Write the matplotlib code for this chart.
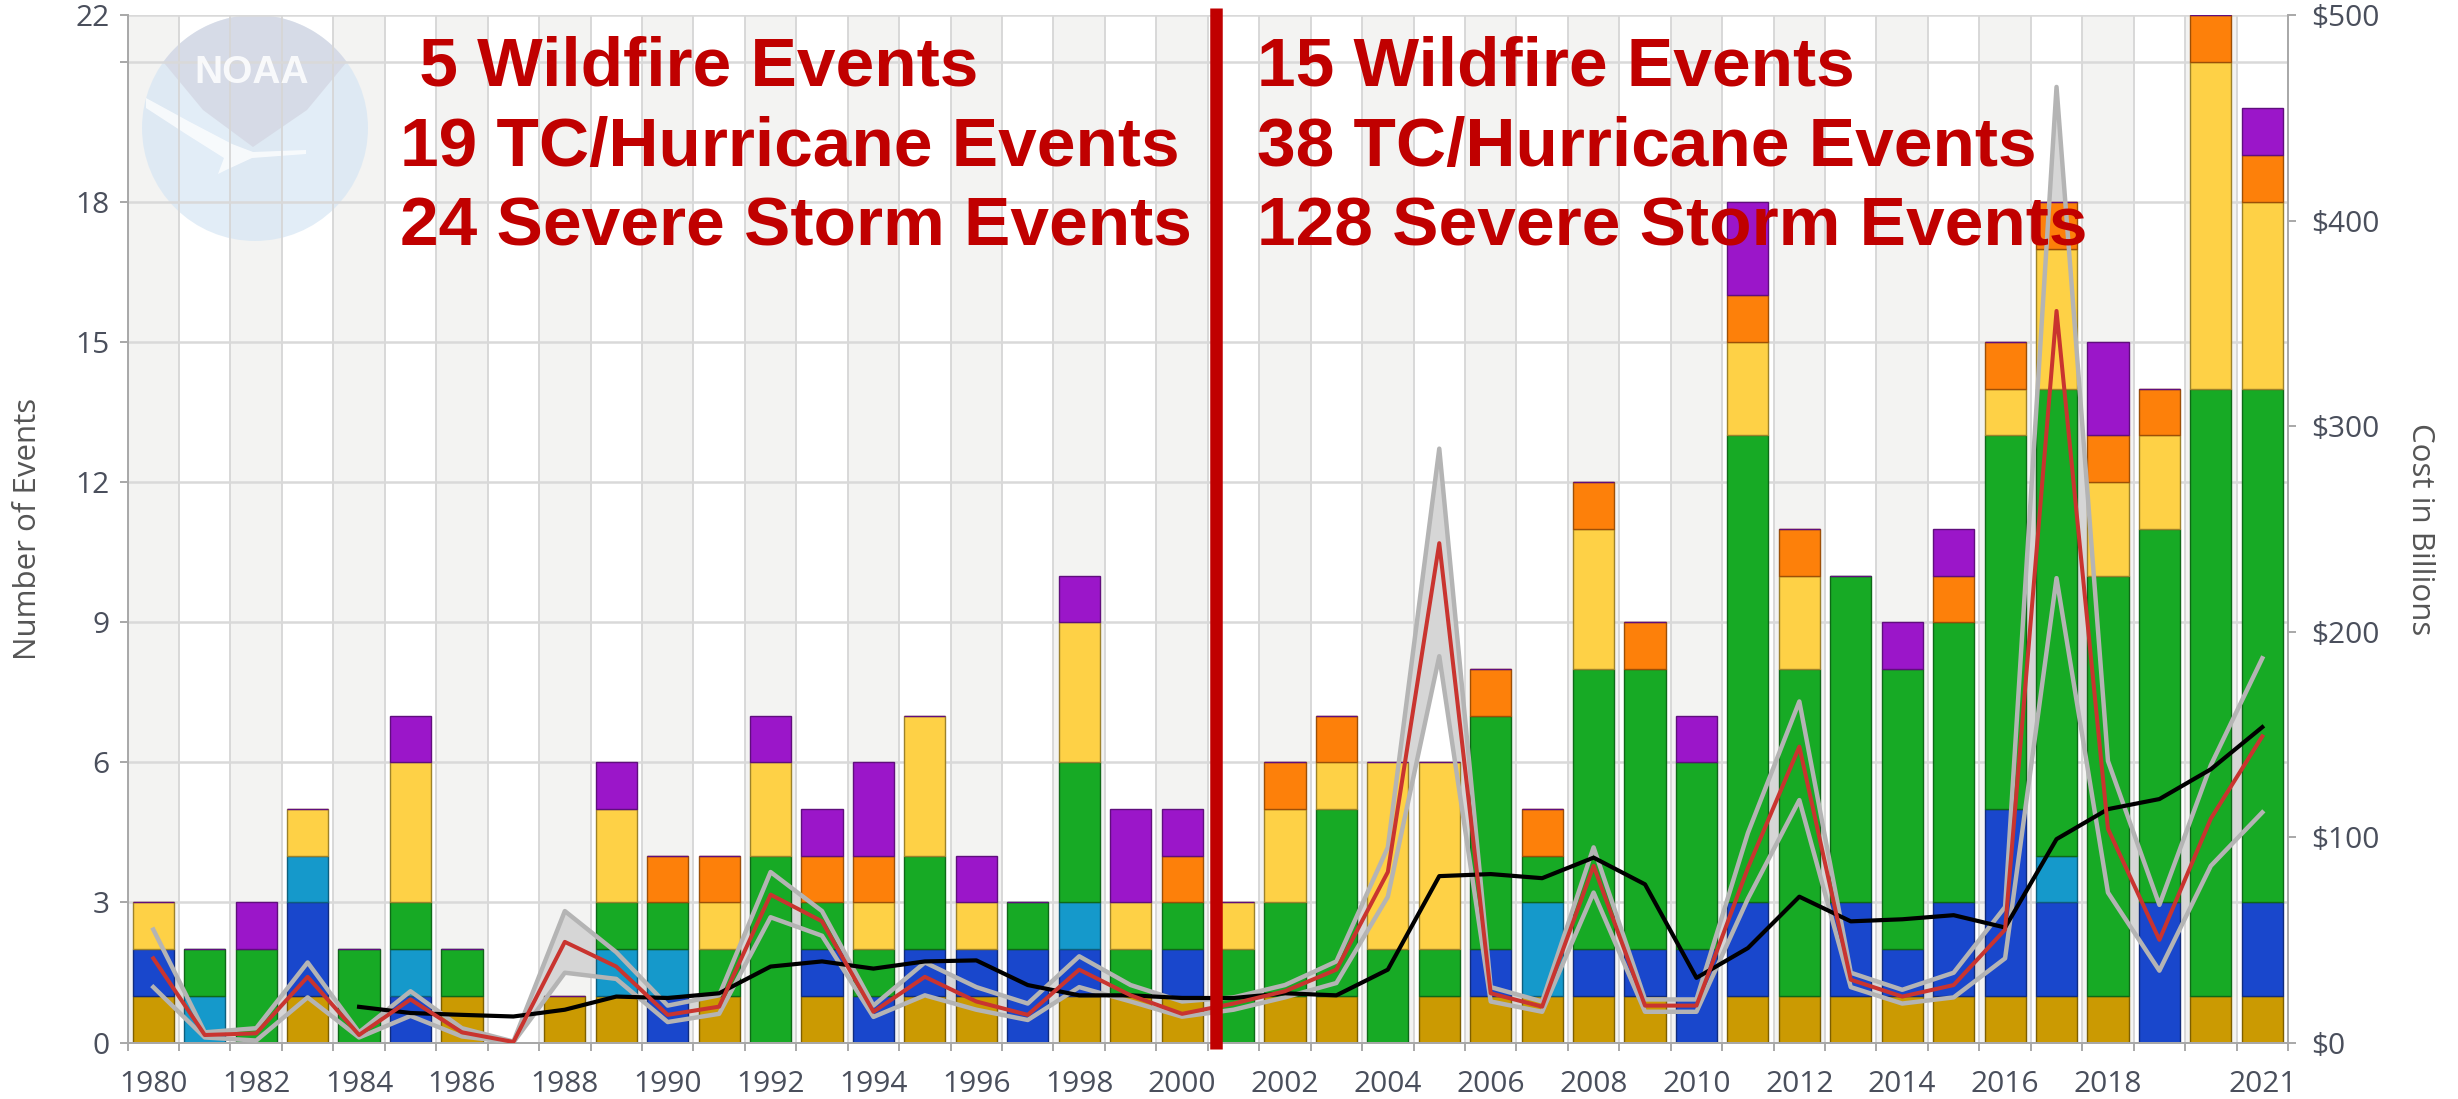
import numpy as np
import matplotlib
matplotlib.use("Agg")
import matplotlib.pyplot as plt
import matplotlib.transforms as mtransforms
from matplotlib.patches import Ellipse, Polygon
from matplotlib.colors import to_rgb
from matplotlib import font_manager as fm

# ---------------- data ----------------
years = list(range(1980, 2022))
drought  = [1,0,0,1,0,0,1,0,1,1, 0,1,0,1,0,1,1,0,1,1, 1,0,1,1,0,1,1,1,1,1, 0,1,1,1,1,1,1,1,1,0, 1,1]
flooding = [1,0,0,2,0,1,0,0,0,0, 1,0,0,1,1,1,1,2,1,0, 1,0,0,0,0,0,1,0,1,1, 2,2,0,2,1,2,4,2,0,3, 0,2]
freeze   = [0,1,0,1,0,1,0,0,0,1, 1,0,0,0,0,0,0,0,1,0, 0,0,0,0,0,0,0,2,0,0, 0,0,0,0,0,0,0,1,0,0, 0,0]
severe   = [0,1,2,0,2,1,1,0,0,1, 1,1,4,1,1,2,0,1,3,1, 1,2,2,4,2,1,5,1,6,6, 4,10,7,7,6,6,8,10,9,8, 13,11]
tropical = [1,0,0,1,0,3,0,0,0,2, 0,1,2,0,1,3,1,0,3,1, 0,1,2,1,4,4,0,0,3,0, 0,2,2,0,0,0,1,3,2,2, 7,4]
wildfire = [0,0,0,0,0,0,0,0,0,0, 1,1,0,1,1,0,0,0,0,0, 1,0,1,1,0,0,1,1,1,1, 0,1,1,0,0,1,1,1,1,1, 1,1]
winter   = [0,0,1,0,0,1,0,0,0,1, 0,0,1,1,2,0,1,0,1,2, 1,0,0,0,0,0,0,0,0,0, 1,2,0,0,1,1,0,0,2,0, 0,1]

# cost in billions (CPI-adjusted) and 95% confidence interval
cost  = [41, 3.7, 4.5, 32, 3.7, 21, 5, 0.3, 49, 37,
         13.5, 17.5, 72, 59, 15, 32, 20, 13.5, 35.5, 23,
         14, 19, 25, 35.5, 83, 243, 24, 17.5, 86, 18,
         18, 85, 144, 30.6, 22.4, 28, 55, 356, 104, 50,
         109, 149]
upper = [55, 5, 7, 39, 5, 25, 7, 0.5, 64, 44,
         18, 23, 83, 64, 18, 39, 27, 19, 42, 28,
         20, 22, 28, 39.5, 95, 289, 27, 20, 95, 21,
         21, 102, 166, 34, 25.7, 34, 66, 465, 137, 67,
         135, 187]
lower = [27, 2.5, 1, 22, 2.5, 13, 3, 0.1, 34, 31,
         10, 14, 61, 52, 12.5, 23, 16, 11, 27, 20,
         12.6, 16, 22, 29, 71, 188, 20, 15, 73, 15,
         15, 70, 118, 27, 19, 22, 41, 226, 73, 35,
         86, 112]
avg_years = list(range(1984, 2022))
avg5 = [17.4, 14.4, 13.5, 12.7, 16, 22.4, 21.7, 24, 37, 39.5,
        36, 39.5, 40, 28, 23, 23, 21.7, 21.7, 24, 23,
        35.5, 81, 82, 80, 90, 77, 31.5, 46, 71, 59,
        60, 62, 56, 99, 113.6, 118.5, 133, 153.5]

categories = ["Drought", "Flooding", "Freeze", "Severe Storm",
              "Tropical Cyclone", "Wildfire", "Winter Storm"]
series = [drought, flooding, freeze, severe, tropical, wildfire, winter]
colors = ["#cb9a02", "#1947cc", "#1599cb", "#17aa25", "#fed146", "#fd800a", "#9b16c9"]

x_labels = [1980, 1982, 1984, 1986, 1988, 1990, 1992, 1994, 1996, 1998,
            2000, 2002, 2004, 2006, 2008, 2010, 2012, 2014, 2016, 2018, 2021]
left_ticks = [0, 3, 6, 9, 12, 15, 18, 21, 22]
left_tick_labels = ["0", "3", "6", "9", "12", "15", "18", "", "22"]
right_ticks = [0, 100, 200, 300, 400, 500]
right_tick_labels = [r"\$0", r"\$100", r"\$200", r"\$300", r"\$400", r"\$500"]

left_notes = [" 5 Wildfire Events", "19 TC/Hurricane Events", "24 Severe Storm Events"]
right_notes = ["15 Wildfire Events", "38 TC/Hurricane Events", "128 Severe Storm Events"]
split_year = 2000.65

# ---------------- fonts ----------------
names = {f.name for f in fm.fontManager.ttflist}
if "Liberation Sans Narrow" in names:
    note_font, note_size = "Liberation Sans Narrow", 60
else:
    note_font, note_size = "Liberation Sans", 50
tick_font = "Open Sans" if "Open Sans" in names else "DejaVu Sans"

W, H = 2458, 1099
fig = plt.figure(figsize=(W / 100, H / 100), dpi=100)
L, R, T, B = 127.6, 2288, 15, 1042.6
ax = fig.add_axes([L / W, 1 - B / H, (R - L) / W, (B - T) / H])
ax2 = ax.twinx()

x = np.array(years)
ax.set_xlim(1979.5, 2021.5)
ax.set_ylim(0, 22)
ax2.set_ylim(0, 500)

# background stripes and grid
for yr in years:
    if yr % 2 == 0:
        ax.axvspan(yr - 0.5, yr + 0.5, color="#f3f3f2", lw=0, zorder=0)
for bnd in np.arange(1979.5, 2022, 1):
    ax.axvline(bnd, color="#d6d6d6", lw=1.3, zorder=0.6)
for t in left_ticks[1:]:
    ax.axhline(t, color="#d9d9d9", lw=1.8, zorder=0.6)

# NOAA watermark (decoration)
def fp(px, py):
    return (px / W, 1 - py / H)

cx, cy, r = 255, 128, 113
logo = Ellipse(fp(cx, cy), 2 * r / W, 2 * r / H, transform=fig.transFigure,
               fc="#d6e6f4", ec="none", alpha=0.7, zorder=0.4)
ax.add_patch(logo)
t0 = np.arcsin(66 / 113)
ts = np.linspace(t0, np.pi - t0, 40)
cap = [fp(cx + r * np.cos(t), cy - r * np.sin(t)) for t in ts]
cap += [fp(203, 110), fp(253, 147), fp(307, 110)]
ax.add_patch(Polygon(cap, closed=True, transform=fig.transFigure,
                     fc="#d4d7e3", ec="none", alpha=0.8, zorder=0.45))
gull = [fp(146, 98), fp(190, 122), fp(232, 144), fp(253, 152), fp(306, 150),
        fp(306, 154), fp(252, 158), fp(226, 170), fp(218, 174), fp(224, 158),
        fp(186, 134), fp(146, 108)]
ax.add_patch(Polygon(gull, closed=True, transform=fig.transFigure,
                     fc="white", ec="none", alpha=0.75, zorder=0.46))
fig.text(252 / W, 1 - 73 / H, "NOAA", family=note_font, weight="bold", fontsize=28,
         color="white", alpha=0.85, ha="center", va="center", zorder=0.5)

# CI band (behind bars), in cost units
ax.fill_between(x, lower, upper, color="#d6d6d6", lw=0, zorder=0.8,
                transform=ax2.transData)
ax.set_xlim(1979.5, 2021.5)
ax.set_ylim(0, 22)

# stacked bars
bottom = np.zeros(len(years))
for name, vals, c in zip(categories, series, colors):
    v = np.array(vals, dtype=float)
    dark = tuple(ch * 0.62 for ch in to_rgb(c))
    if name == "Winter Storm":
        m = np.ones(len(v), dtype=bool)
    else:
        m = v > 0
    ax.bar(x[m], v[m], 0.8, bottom=bottom[m], color=c, edgecolor=dark,
           lw=1.0, zorder=2, label=name)
    bottom += v

# lines on the cost axis
ax2.plot(x, upper, color="#b4b4b4", lw=3.2, zorder=3)
ax2.plot(x, lower, color="#b4b4b4", lw=3.2, zorder=3)
ax2.plot(avg_years, avg5, color="black", lw=3.0, zorder=4)
ax2.plot(x, cost, color="#c9342f", lw=2.9, zorder=5)

# separator
blend = mtransforms.blended_transform_factory(ax2.transData, ax2.transAxes)
ax2.plot([split_year, split_year], [-0.006, 1.007], transform=blend, clip_on=False,
         color="#c00000", lw=9, solid_capstyle="butt", zorder=6)

# ticks
tick_col = "#4a4f5c"
ax.set_xticks(np.arange(1979.5, 2022, 1))
ax.set_xticklabels([])
ax.set_xticks(x_labels, minor=True)
ax.set_xticklabels([str(v) for v in x_labels], minor=True)
ax.tick_params(axis="x", which="major", length=6, width=1.4, color="#a8a8a8")
ax.tick_params(axis="x", which="minor", length=0, pad=20, labelsize=21.5,
               labelcolor=tick_col)
ax.set_yticks(left_ticks)
ax.set_yticklabels(left_tick_labels)
ax.tick_params(axis="y", length=6, width=1.4, color="#a8a8a8", pad=7,
               labelsize=21.5, labelcolor=tick_col)
ax2.set_yticks(right_ticks)
ax2.set_yticklabels(right_tick_labels)
ax2.tick_params(axis="y", length=6, width=1.4, color="#a8a8a8", pad=11,
                labelsize=21.5, labelcolor=tick_col)
for lab in ax.get_xticklabels(minor=True) + ax.get_yticklabels() + ax2.get_yticklabels():
    lab.set_family(tick_font)

for a in (ax, ax2):
    a.spines["top"].set_visible(False)
    for s in ("left", "right", "bottom"):
        a.spines[s].set_color("#a8a8a8")
        a.spines[s].set_linewidth(1.4)
ax2.spines["left"].set_visible(False)
ax.spines["right"].set_visible(False)

ax.set_ylabel("Number of Events", family=tick_font, fontsize=22.5, color="#555555")
ax.yaxis.set_label_coords(-0.039, 0.5)
ax2.set_ylabel("Cost in Billions", family=tick_font, fontsize=22.5, color="#555555",
               rotation=270, va="bottom")
ax2.yaxis.set_label_coords(1.054, 0.5)

# annotations
base = [85, 166, 246]
for txt, by in zip(left_notes, base):
    fig.text(400 / W, 1 - by / H, txt, family=note_font, weight="bold",
             fontsize=note_size, color="#c00000", ha="left", va="baseline", zorder=10)
for txt, by in zip(right_notes, base):
    fig.text(1257 / W, 1 - by / H, txt, family=note_font, weight="bold",
             fontsize=note_size, color="#c00000", ha="left", va="baseline", zorder=10)

fig.savefig("out.png", dpi=100, facecolor="white")
